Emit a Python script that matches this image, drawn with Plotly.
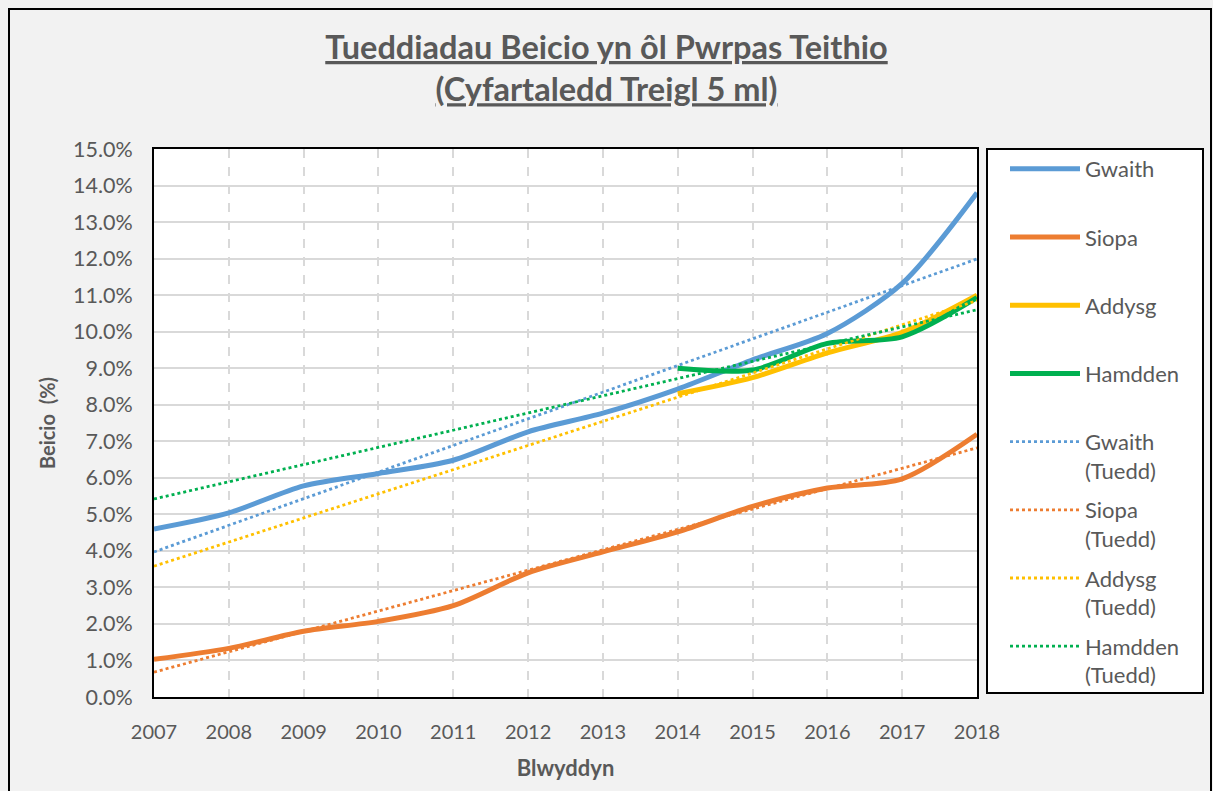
import plotly.graph_objects as go

# ---- data ----
years = [2007, 2008, 2009, 2010, 2011, 2012, 2013, 2014, 2015, 2016, 2017, 2018]
gwaith = [4.6, 5.04, 5.78, 6.12, 6.48, 7.26, 7.77, 8.43, 9.23, 9.95, 11.32, 13.8]
siopa = [1.03, 1.33, 1.8, 2.07, 2.5, 3.4, 3.97, 4.52, 5.22, 5.72, 5.97, 7.19]
years_recent = [2014, 2015, 2016, 2017, 2018]
addysg = [8.3, 8.74, 9.42, 9.98, 11.0]
hamdden = [9.0, 8.95, 9.68, 9.86, 10.93]

trend_years = [2007, 2018]
gwaith_trend = [3.97, 11.99]
siopa_trend = [0.68, 6.82]
addysg_trend = [3.58, 10.85]
hamdden_trend = [5.42, 10.6]

y_ticks = [i for i in range(0, 16)]
y_tick_labels = [f"{v:.1f}%" for v in y_ticks]

names = ["Gwaith", "Siopa", "Addysg", "Hamdden"]
colors = ["#5b9bd5", "#ed7d31", "#ffc000", "#00b050"]

FONT = "Lato"
GREY = "#595959"

W, H = 1213, 791
L, R, T, B = 154, 236, 149, 94
pw, ph = W - L - R, H - T - B

fig = go.Figure()

series = [(years, gwaith), (years, siopa), (years_recent, addysg), (years_recent, hamdden)]
for i, (xs, ys) in enumerate(series):
    fig.add_trace(go.Scatter(
        x=xs, y=ys, mode="lines", name=names[i] + "<br> ",
        line=dict(color=colors[i], width=5, shape="spline", smoothing=0.8),
        legendgroup=f"g{i}",
    ))

trends = [gwaith_trend, siopa_trend, addysg_trend, hamdden_trend]
for i, tr in enumerate(trends):
    fig.add_trace(go.Scatter(
        x=trend_years, y=tr, mode="lines", name=names[i] + "<br>(Tuedd)",
        line=dict(color=colors[i], width=2.8, dash="dot"),
        legendgroup=f"t{i}",
    ))

def px2paper_x(px):
    return (px - L) / pw

def px2paper_y(py):
    return (H - B - py) / ph

shapes = [
    # outer chart border
    dict(type="rect", xref="paper", yref="paper",
         x0=px2paper_x(9), x1=px2paper_x(1211), y0=px2paper_y(795), y1=px2paper_y(9),
         line=dict(color="#000000", width=2), fillcolor="rgba(0,0,0,0)", layer="below"),
    # legend box
    dict(type="rect", xref="paper", yref="paper",
         x0=px2paper_x(987), x1=px2paper_x(1203), y0=px2paper_y(693), y1=px2paper_y(149),
         line=dict(color="#000000", width=2), fillcolor="#ffffff", layer="below"),
]

fig.update_layout(
    width=W, height=H,
    margin=dict(l=L, r=R, t=T, b=B, autoexpand=False),
    paper_bgcolor="#f2f2f2",
    plot_bgcolor="#ffffff",
    font=dict(family=FONT, color=GREY, size=19),
    title=dict(
        text="<b><u>Tueddiadau Beicio yn ôl Pwrpas Teithio</u></b><br><b><u>(Cyfartaledd Treigl 5 ml)</u></b>",
        x=0.5, xanchor="center", y=1 - 59 / H, yanchor="top",
        font=dict(family=FONT, size=32.5, color=GREY),
    ),
    xaxis=dict(
        range=[2007, 2018], tickmode="array", tickvals=years, ticktext=[str(y) for y in years],
        showgrid=True, gridcolor="#d9d9d9", gridwidth=2, griddash="dash",
        showline=True, linecolor="#000000", linewidth=2, mirror=True,
        ticks="", tickfont=dict(size=20, color=GREY), zeroline=False, ticklabelstandoff=16,
        title=dict(text="<b>Blwyddyn</b>", font=dict(size=22, color=GREY), standoff=19),
    ),
    yaxis=dict(
        range=[0, 15], tickmode="array", tickvals=y_ticks, ticktext=y_tick_labels,
        showgrid=True, gridcolor="#d9d9d9", gridwidth=2,
        showline=True, linecolor="#000000", linewidth=2, mirror=True,
        ticks="", tickfont=dict(size=21.5, color=GREY), zeroline=False, ticklabelstandoff=15,
        title=dict(text="<b>Beicio  (%)</b>", font=dict(size=20, color=GREY), standoff=12),
    ),
    legend=dict(
        x=px2paper_x(1005), xanchor="left", y=px2paper_y(148), yanchor="top",
        bgcolor="rgba(0,0,0,0)", borderwidth=0,
        font=dict(family=FONT, size=22, color=GREY),
        traceorder="grouped", tracegroupgap=8, valign="top", itemwidth=70,
        maxheight=760,
    ),
    shapes=shapes,
    showlegend=True,
)

fig.write_html("out.html", config={"displayModeBar": False},
               post_script="document.body.style.margin='0px';")
